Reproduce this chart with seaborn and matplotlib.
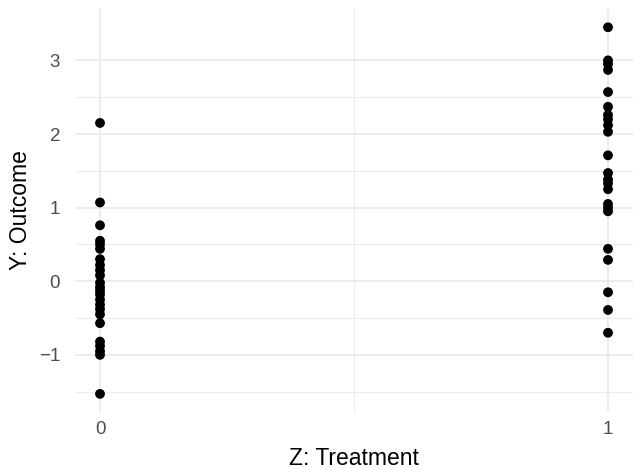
import numpy as np
import pandas as pd
import matplotlib
matplotlib.use("Agg")
import matplotlib.pyplot as plt
import seaborn as sns

# values
control_y = [2.15, 1.07, 0.76, 0.55, 0.50, 0.44, 0.30, 0.22, 0.15, 0.08,
             -0.02, -0.08, -0.13, -0.18, -0.25, -0.32, -0.38, -0.45, -0.57,
             -0.82, -0.88, -0.95, -1.00, -1.53]
treated_y = [3.45, 3.00, 2.95, 2.87, 2.57, 2.37, 2.26, 2.20, 2.12, 2.03,
             1.71, 1.47, 1.38, 1.33, 1.25, 1.05, 1.00, 0.95, 0.44, 0.29,
             -0.15, -0.39, -0.70]
x_ticks = [0, 1]
y_ticks = [-1, 0, 1, 2, 3]

df = pd.DataFrame({
    "z": [0] * len(control_y) + [1] * len(treated_y),
    "y": control_y + treated_y,
})

sns.set_style("white")
plt.rcParams['font.family'] = ['Liberation Sans', 'DejaVu Sans']

fig = plt.figure(figsize=(6.35, 4.7), dpi=100)
ax = fig.add_axes([0.1175, 0.123, 0.88, 0.858])

sns.scatterplot(data=df, x="z", y="y", color="black", s=50,
                edgecolor="none", ax=ax, zorder=3)

# ggplot-style 5% expansion
ymin, ymax = min(df["y"]), max(df["y"])
pad = (ymax - ymin) * 0.05
ax.set_ylim(ymin - pad, ymax + pad)
ax.set_xlim(-0.05, 1.05)

ax.set_xticks(x_ticks)
ax.set_yticks(y_ticks)
ax.set_xticks([0.5], minor=True)
ax.set_yticks([-1.5, -0.5, 0.5, 1.5, 2.5], minor=True)
ax.grid(True, which="major", color="#EBEBEB", linewidth=1.3)
ax.grid(True, which="minor", color="#EBEBEB", linewidth=0.7)
ax.tick_params(which="both", length=0)
ax.tick_params(axis="y", pad=10.5, labelsize=13.5, labelcolor="#4D4D4D")
ax.tick_params(axis="x", pad=6.5, labelsize=13.5, labelcolor="#4D4D4D")
for s in ax.spines.values():
    s.set_visible(False)

ax.set_xlabel("Z: Treatment", fontsize=16.5, labelpad=6.5, color="black")
ax.set_ylabel("Y: Outcome", fontsize=16.5, labelpad=5, color="black")

fig.savefig("out.png", dpi=100)
